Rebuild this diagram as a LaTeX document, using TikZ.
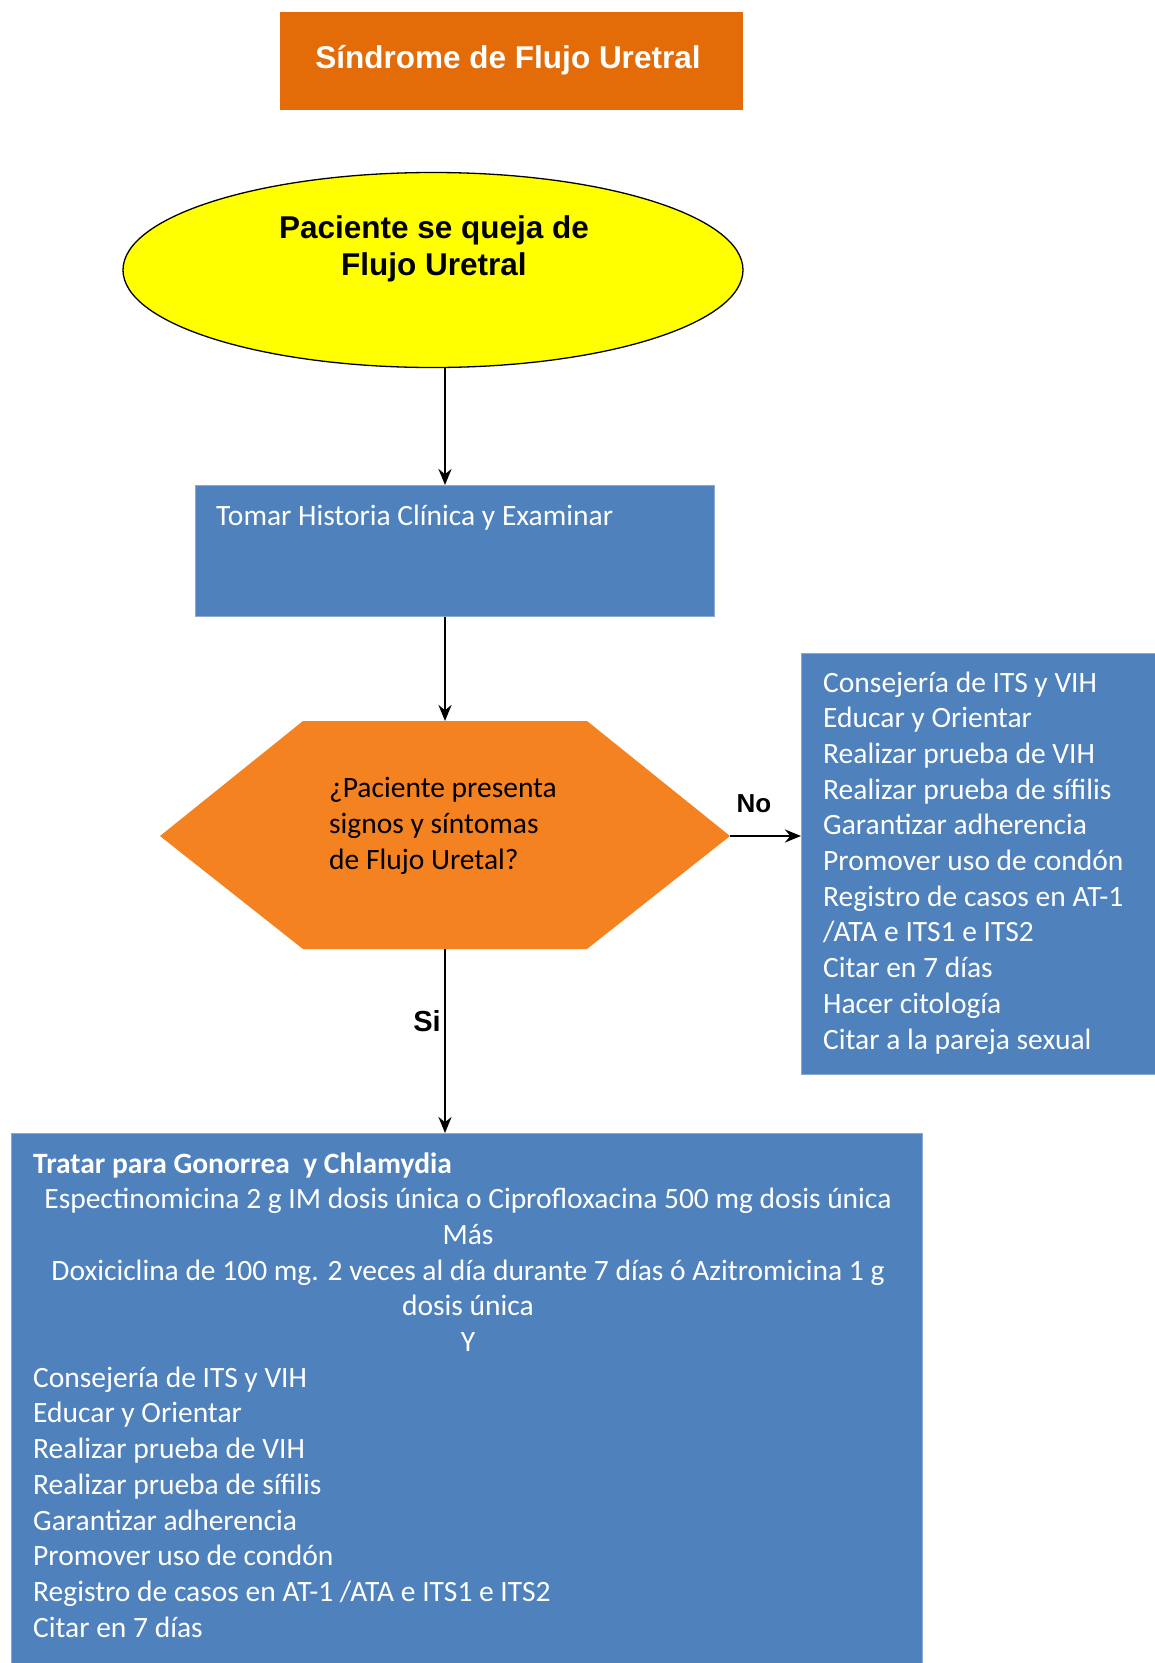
\documentclass[tikz,border=0pt]{standalone}
\usepackage{fontspec}
\setmainfont{Carlito}
\newfontfamily\arial{Liberation Sans}
\usetikzlibrary{arrows.meta,shapes.geometric}
\definecolor{ttlor}{HTML}{E36C09}
\definecolor{hexor}{HTML}{F58220}
\definecolor{boxbl}{HTML}{4F81BD}
\definecolor{edgebl}{HTML}{8AAAD3}
\definecolor{elly}{HTML}{FFFF00}
\begin{document}
\begin{tikzpicture}[x=1pt,y=-1pt,
  arr/.style={line width=2.6pt,-{Stealth[length=16pt,width=13pt]}},
  bodyfont/.style={font=\fontsize{29.5}{35.7}\selectfont},
  txt/.style={bodyfont,anchor=base west,inner sep=0pt},
  wtxt/.style={txt,text=white},
  ctxt/.style={bodyfont,anchor=base,inner sep=0pt,text=white},
  bluebox/.style={fill=boxbl,draw=edgebl,line width=0.8pt,inner sep=0pt,anchor=north west},
  lbl/.style={font=\arial\bfseries\fontsize{26}{30}\selectfont,inner sep=0pt}]
\useasboundingbox (0,0) rectangle (1155,1663);
\fill[white] (0,0) rectangle (1155,1663);

% title
\node[fill=ttlor,minimum width=463pt,minimum height=98pt,inner sep=0pt,anchor=north west] (title) at (280,12) {};
\node[text=white,font=\arial\bfseries\fontsize{31.5}{36}\selectfont,anchor=base,inner sep=0pt] (titletext) at (508,68) {Síndrome de Flujo Uretral};

% ellipse
\node[ellipse,draw=black,line width=1.3pt,fill=elly,minimum width=620pt,minimum height=195pt,inner sep=0pt] (ell) at (433,270) {};
\node[font=\arial\bfseries\fontsize{31.5}{36}\selectfont,anchor=base,inner sep=0pt] (ellt1) at (434,238) {Paciente se queja de};
\node[font=\arial\bfseries\fontsize{31.5}{36}\selectfont,anchor=base,inner sep=0pt] (ellt2) at (434,275) {Flujo Uretral};

% box 1
\node[bluebox,minimum width=519pt,minimum height=131pt] (box1) at (195,485) {};
\node[wtxt] (box1t) at (216,525) {Tomar Historia Clínica y Examinar};

% hexagon
\coordinate (hexT) at (445,721);
\coordinate (hexB) at (445,949);
\coordinate (hexR) at (730,836);
\fill[hexor] (160,836) -- (303,721) -- (587,721) -- (hexR) -- (587,949) -- (303,949) -- cycle;
\node[txt] (hx1) at (329,797) {¿Paciente presenta};
\node[txt] (hx2) at (329,833) {signos y síntomas};
\node[txt] (hx3) at (329,869) {de Flujo Uretal?};

% right box
\node[bluebox,minimum width=356pt,minimum height=421pt] (rbox) at (801,653) {};
\foreach \t [count=\i from 0] in {Consejería de ITS y VIH,Educar y Orientar,Realizar prueba de VIH,Realizar prueba de sífilis,Garantizar adherencia,Promover uso de condón,Registro de casos en AT-1,/ATA e ITS1 e ITS2,Citar en 7 días,Hacer citología,Citar a la pareja sexual}
  \node[wtxt] (r\i) at (823,692+35.7*\i) {\t};

% bottom box
\node[bluebox,minimum width=911pt,minimum height=532pt] (treat) at (11,1133) {};
\node[wtxt,font=\bfseries\fontsize{29.5}{35.7}\selectfont] (tr0) at (33,1173) {Tratar para Gonorrea\ \ y Chlamydia};
\node[ctxt] (tr1) at (468,1173+35.7) {Espectinomicina 2 g IM dosis única o Ciprofloxacina 500 mg dosis única};
\node[ctxt] (tr2) at (468,1173+35.7*2) {Más};
\node[ctxt] (tr3) at (468,1173+35.7*3) {Doxiciclina de 100 mg. 2 veces al día durante 7 días ó Azitromicina 1 g};
\node[ctxt] (tr4) at (468,1173+35.7*4) {dosis única};
\node[ctxt] (tr5) at (468,1173+35.7*5) {Y};
\foreach \t [count=\i from 6] in {Consejería de ITS y VIH,Educar y Orientar,Realizar prueba de VIH,Realizar prueba de sífilis,Garantizar adherencia,Promover uso de condón,Registro de casos en AT-1 /ATA e ITS1 e ITS2,Citar en 7 días}
  \node[wtxt] (tr\i) at (33,1173+35.7*\i) {\t};

% connectors
\coordinate (a1) at (445,367.5);
\draw[arr] (a1) -- (box1.north -| a1);
\draw[arr] (box1.south -| a1) -- (hexT);
\draw[arr] (hexR) -- (rbox.west |- hexR);
\draw[arr] (hexB) -- (treat.north -| hexB);
\node[lbl] (no) at (754,804) {No};
\node[lbl,font=\arial\bfseries\fontsize{29}{32}\selectfont] (si) at (427,1021) {Si};
\end{tikzpicture}
\end{document}
